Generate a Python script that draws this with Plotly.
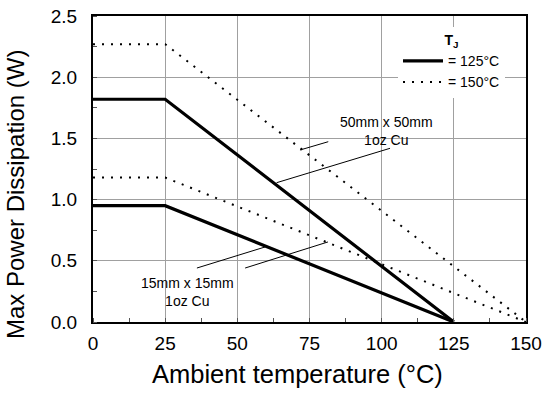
import plotly.graph_objects as go

# ---- data ----
t125 = [0, 25, 125]
p125_50mm = [1.82, 1.82, 0.0]
p125_15mm = [0.95, 0.95, 0.0]
t150 = [0, 25, 150]
p150_50mm = [2.27, 2.27, 0.0]
p150_15mm = [1.18, 1.18, 0.0]

x_ticks = [0, 25, 50, 75, 100, 125, 150]
y_ticks = [0.0, 0.5, 1.0, 1.5, 2.0, 2.5]

FONT = "Arial, Liberation Sans, sans-serif"
DOT = "2px,7px"

fig = go.Figure()
fig.add_trace(go.Scatter(x=t125, y=p125_50mm, mode="lines", name="= 125°C",
                         line=dict(color="black", width=3.2), legendgroup="125"))
fig.add_trace(go.Scatter(x=t125, y=p125_15mm, mode="lines", name="= 125°C",
                         line=dict(color="black", width=3.2), legendgroup="125", showlegend=False))
fig.add_trace(go.Scatter(x=t150, y=p150_50mm, mode="lines", name="= 150°C",
                         line=dict(color="black", width=2, dash=DOT), legendgroup="150"))
fig.add_trace(go.Scatter(x=t150, y=p150_15mm, mode="lines", name="= 150°C",
                         line=dict(color="black", width=2, dash=DOT), legendgroup="150", showlegend=False))

# leader lines
leaders = [
    (71.7, 1.405, 81.5, 1.473),
    (63.6, 1.138, 102.9, 1.419),
    (36.0, 0.441, 59.6, 0.613),
    (52.7, 0.441, 81.4, 0.654),
]
for x0, y0, x1, y1 in leaders:
    fig.add_shape(type="line", x0=x0, y0=y0, x1=x1, y1=y1, xref="x", yref="y",
                  line=dict(color="black", width=1))

fig.add_annotation(x=101.8, y=1.563, xref="x", yref="y", text="50mm x 50mm<br>1oz Cu",
                   showarrow=False, font=dict(family=FONT, size=14, color="black"))
fig.add_annotation(x=32.6, y=0.245, xref="x", yref="y", text="15mm x 15mm<br>1oz Cu",
                   showarrow=False, font=dict(family=FONT, size=14, color="black"))

# axis titles
fig.add_annotation(x=(297 - 93) / 433, y=(322 - 374) / 306, xref="paper", yref="paper",
                   text="Ambient temperature (°C)", showarrow=False,
                   xanchor="center", yanchor="middle",
                   font=dict(family=FONT, size=25.5, color="black"))
fig.add_annotation(x=(16 - 93) / 433, y=(322 - 195) / 306, xref="paper", yref="paper",
                   text="Max Power Dissipation (W)", showarrow=False, textangle=-90,
                   xanchor="center", yanchor="middle",
                   font=dict(family=FONT, size=24, color="black"))

axis_common = dict(
    showgrid=True, gridcolor="#a0a0a0", gridwidth=1,
    showline=True, linecolor="black", linewidth=2, mirror=True,
    ticks="", zeroline=False, automargin=False,
    tickfont=dict(family=FONT, size=19, color="black"),
)

fig.update_xaxes(range=[0, 150], tickvals=x_ticks, ticktext=[str(v) for v in x_ticks],
                 minor=dict(dtick=12.5, ticks="inside", ticklen=4, tickcolor="#555", showgrid=False),
                 ticklabelstandoff=3, **axis_common)
fig.update_yaxes(range=[0, 2.5], tickvals=y_ticks, ticktext=[f"{v:.1f}" for v in y_ticks],
                 minor=dict(dtick=0.25, ticks="inside", ticklen=4, tickcolor="#555", showgrid=False),
                 ticklabelstandoff=10, **axis_common)

fig.update_layout(
    width=542, height=394,
    margin=dict(l=93, r=16, t=16, b=72, autoexpand=False),
    paper_bgcolor="white", plot_bgcolor="white",
    font=dict(family=FONT, color="black"),
    showlegend=True,
    legend=dict(
        x=(398 - 93) / 433, y=(322 - 27) / 306, xanchor="left", yanchor="top",
        bgcolor="white", borderwidth=0,
        font=dict(family=FONT, size=14, color="black"),
        title=dict(text="<b>T<sub>J</sub></b>", side="top center",
                   font=dict(family=FONT, size=14, color="black")),
        tracegroupgap=0, itemwidth=40,
    ),
)

fig.write_html("out.html", config={"displayModeBar": False},
               post_script="document.body.style.margin='0';document.body.style.padding='0';")
